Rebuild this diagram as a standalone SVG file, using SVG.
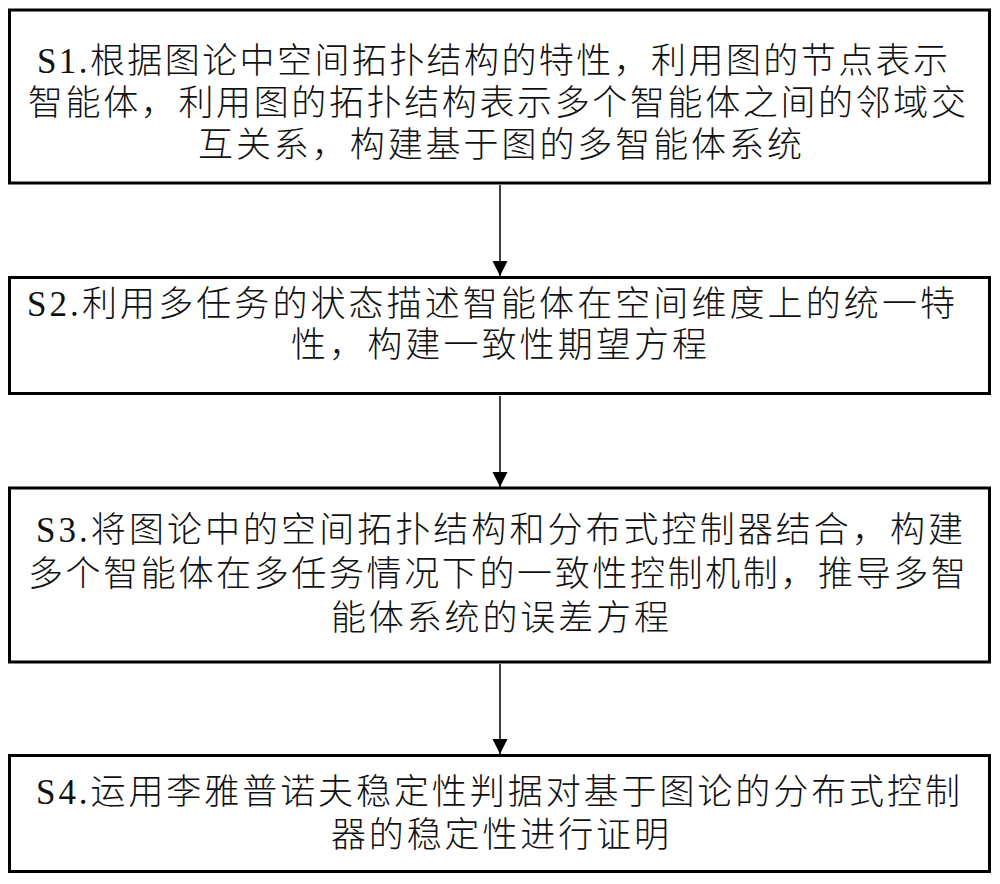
<svg xmlns="http://www.w3.org/2000/svg" width="1000" height="884" viewBox="0 0 1000 884">
  <style>
    .box { fill: #ffffff; stroke: #000000; stroke-width: 3; }
    .t { font-family: "Liberation Serif", "Noto Sans CJK SC", serif; font-size: 35px; font-weight: 300; fill: #111111; }
    .edge { stroke: #000000; stroke-width: 1.5; fill: none; }
  </style>
  <defs>
    <marker id="arrow" markerUnits="userSpaceOnUse" markerWidth="16" markerHeight="16" viewBox="0 0 16 16" refX="15" refY="8" orient="auto">
      <path d="M0,0.5 L15,8 L0,15.5 Z" fill="#000000"/>
    </marker>
  </defs>
  <rect x="0" y="0" width="1000" height="884" fill="#ffffff"/>
  <g id="connectors">
    <line class="edge" x1="500" y1="185" x2="500" y2="276" marker-end="url(#arrow)"/>
    <line class="edge" x1="500" y1="396" x2="500" y2="487" marker-end="url(#arrow)"/>
    <line class="edge" x1="500" y1="664" x2="500" y2="754" marker-end="url(#arrow)"/>
  </g>
  <g id="S1">
    <rect class="box" x="9.5" y="10" width="980" height="173"/>
    <text class="t" x="37" y="73" textLength="911" lengthAdjust="spacing">S1.根据图论中空间拓扑结构的特性，利用图的节点表示</text>
    <text class="t" x="28" y="115" textLength="938" lengthAdjust="spacing">智能体，利用图的拓扑结构表示多个智能体之间的邻域交</text>
    <text class="t" x="198" y="157" textLength="604" lengthAdjust="spacing">互关系，构建基于图的多智能体系统</text>
  </g>
  <g id="S2">
    <rect class="box" x="9.5" y="277.5" width="980" height="116"/>
    <text class="t" x="27" y="316" textLength="928" lengthAdjust="spacing">S2.利用多任务的状态描述智能体在空间维度上的统一特</text>
    <text class="t" x="291" y="357" textLength="416" lengthAdjust="spacing">性，构建一致性期望方程</text>
  </g>
  <g id="S3">
    <rect class="box" x="9.5" y="488" width="980" height="174"/>
    <text class="t" x="36" y="542" textLength="927" lengthAdjust="spacing">S3.将图论中的空间拓扑结构和分布式控制器结合，构建</text>
    <text class="t" x="28" y="586" textLength="938" lengthAdjust="spacing">多个智能体在多任务情况下的一致性控制机制，推导多智</text>
    <text class="t" x="331" y="630" textLength="338" lengthAdjust="spacing">能体系统的误差方程</text>
  </g>
  <g id="S4">
    <rect class="box" x="9.5" y="755.5" width="980" height="116"/>
    <text class="t" x="36" y="804" textLength="924" lengthAdjust="spacing">S4.运用李雅普诺夫稳定性判据对基于图论的分布式控制</text>
    <text class="t" x="331" y="847" textLength="338" lengthAdjust="spacing">器的稳定性进行证明</text>
  </g>
</svg>
